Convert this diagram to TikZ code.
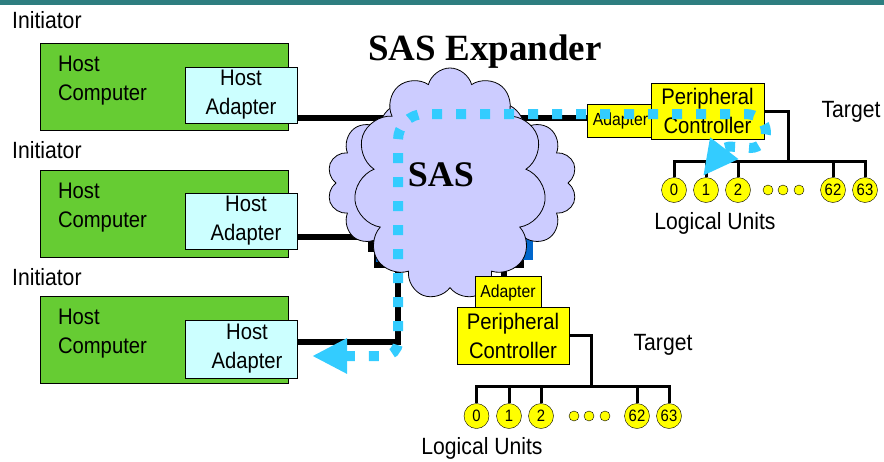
\documentclass[tikz,border=0pt]{standalone}
\usepackage{fontspec}
\setmainfont{Liberation Sans}[FakeStretch=0.9]
\newfontfamily\serifbold{Liberation Serif}
\usetikzlibrary{shapes.symbols, arrows.meta, positioning, backgrounds, calc}
\definecolor{barteal}{RGB}{46,126,128}
\definecolor{hostgreen}{RGB}{102,204,51}
\definecolor{adaptcyan}{RGB}{204,255,255}
\definecolor{ctrlyellow}{RGB}{255,255,0}
\definecolor{cloudlav}{RGB}{204,204,255}
\definecolor{flowcyan}{RGB}{51,204,255}
\definecolor{portblue}{RGB}{0,102,204}
\newcommand{\diagfont}{\fontsize{22.5}{29}\selectfont}
\newcommand{\tagfont}{\fontsize{23.5}{29}\selectfont}
\newcommand{\portfont}{\fontsize{17.5}{18}\selectfont}
\newcommand{\unitfont}{\fontsize{16.5}{17}\selectfont}
\tikzset{
  hostbox/.style={rectangle, draw=black, fill=hostgreen, minimum width=248pt,
                  minimum height=87pt},
  hostlabel/.style={align=left, inner sep=0pt, font=\diagfont},
  adapterbox/.style={rectangle, draw=black, fill=adaptcyan, minimum width=112pt,
                     minimum height=56pt, align=center, inner sep=0pt, font=\diagfont},
  ctrlbox/.style={rectangle, draw=black, fill=ctrlyellow, minimum width=113pt,
                  minimum height=56pt, align=center, inner sep=0pt, font=\diagfont},
  portbox/.style={rectangle, draw=black, fill=ctrlyellow, minimum width=66pt,
                  minimum height=33pt, inner sep=0pt, font=\portfont},
  lunit/.style={circle, draw=black, fill=ctrlyellow, minimum size=25pt,
                inner sep=0pt, font=\unitfont},
  ldot/.style={circle, draw=black, fill=ctrlyellow, minimum size=10pt, inner sep=0pt},
  tag/.style={font=\tagfont, inner sep=0pt},
  link/.style={line width=6pt, draw=black},
  bus/.style={line width=3pt, draw=black},
  flow/.style={line width=10pt, draw=flowcyan, dash pattern=on 10pt off 14pt,
               {Triangle[length=35pt,width=33pt]}-{Triangle[length=35pt,width=33pt]}},
  sascloud/.style={cloud, cloud ignores aspect, draw=black, fill=cloudlav, thick},
}

\begin{document}
\begin{tikzpicture}[x=1pt, y=-1pt]
  \useasboundingbox (0,0) rectangle (884,461);
  % Top bar
  \fill[barteal] (0,0) rectangle (884,5);

  % Initiators
  \node[tag, anchor=west] (init1) at (12,20) {Initiator};
  \node[tag, anchor=west] (init2) at (12,150) {Initiator};
  \node[tag, anchor=west] (init3) at (12,277) {Initiator};

  \node[hostbox] (hc1) at (164,86.5) {};
  \node[hostlabel, below right=13pt and 18pt of hc1.north west] (hl1) {Host\\Computer};
  \node[hostbox] (hc2) at (164,214) {};
  \node[hostlabel, below right=13pt and 18pt of hc2.north west] (hl2) {Host\\Computer};
  \node[hostbox] (hc3) at (164,340) {};
  \node[hostlabel, below right=13pt and 18pt of hc3.north west] (hl3) {Host\\Computer};

  \node[adapterbox] (ha1) at (241,95) {Host\\Adapter};
  \node[adapterbox] (ha2) at (241,221) {\hspace*{10pt}Host\\\hspace*{10pt}Adapter};
  \node[adapterbox, minimum height=58pt] (ha3) at (241,349)
    {\hspace*{12pt}Host\\\hspace*{12pt}Adapter};

  % Expander cloud
  \node[sascloud, cloud puffs=14, minimum width=250pt, minimum height=175pt]
    (cloudback) at (452,183) {};
  \node[sascloud, cloud puffs=11, minimum width=192pt, minimum height=232pt]
    (sas) at (450,184) {};
  \node[font=\serifbold\fontsize{36}{40}\selectfont\bfseries, inner sep=0pt]
    (sastxt) at (441,175) {SAS};
  \node[font=\serifbold\fontsize{37}{40}\selectfont\bfseries, inner sep=0pt]
    (title) at (485,52) {SAS Expander};

  % Upper target
  \node[portbox] (adt) at (620.5,121) {Adapter};
  \node[ctrlbox] (pct) at (707.5,111) {Peripheral\\Controller};
  \foreach \n/\x in {0/674, 1/706, 2/738, 62/833, 63/865}
    \node[lunit] (tu\n) at (\x,190) {\n};
  \foreach \i/\x in {1/768, 2/783, 3/799}
    \node[ldot] (tdot\i) at (\x,190) {};
  \coordinate (tbus) at (788,161);
  \draw[bus] (pct.east) -| (tbus);
  \draw[bus] (tu0.north) |- (tu63.north |- tbus) -- (tu63.north);
  \foreach \n in {1,2,62}
    \draw[bus] (tu\n.north) -- (tu\n.north |- tbus);
  \node[tag] (ttarget) at (851,112) {Target};
  \node[tag] (tlus) at (715,223) {Logical Units};

  % Lower target
  \node[portbox] (adb) at (508,292.5) {Adapter};
  \node[ctrlbox, minimum width=112pt, minimum height=57pt] (pcb) at (513,335.5)
    {Peripheral\\Controller};
  \foreach \n/\x in {0/476.5, 1/509, 2/541, 62/637, 63/669}
    \node[lunit] (bu\n) at (\x,416) {\n};
  \foreach \i/\x in {1/574, 2/589, 3/605}
    \node[ldot] (bdot\i) at (\x,416) {};
  \coordinate (bbus) at (591,386);
  \draw[bus] (pcb.east) -| (bbus);
  \draw[bus] (bu0.north) |- (bu63.north |- bbus) -- (bu63.north);
  \foreach \n in {1,2,62}
    \draw[bus] (bu\n.north) -- (bu\n.north |- bbus);
  \node[tag] (btarget) at (663,345) {Target};
  \node[tag] (blus) at (482,448) {Logical Units};

  % Links behind the cloud
  \coordinate (hop1) at (420,118);
  \coordinate (hop2) at (372,237);
  \coordinate (turn3) at (398,342);
  \coordinate (hop3) at (398,262);
  \coordinate (hop4) at (504,262);
  \begin{scope}[on background layer]
    \draw[link] (ha1.east |- hop1) -- (hop1);
    \draw[link] (hop1) -- (adt.west |- hop1);
    \draw[link] (ha2.east |- hop2) -- (hop2);
    \draw[link] (ha3.east |- turn3) -- (turn3) -- (hop3);
    \draw[link] (hop4) -- (adb.north -| hop4);
    \fill[black] (368,236) rectangle (382,252);
    \fill[black] (374,252) rectangle (401,268);
    \fill[portblue] (376,244) rectangle (392,262);
    \fill[black] (498,255) rectangle (524,268);
    \fill[portblue] (523,237) rectangle (533,260);
  \end{scope}

  % Data path
  \coordinate (tipL) at (312,356);
  \coordinate (tipR) at (703,176);
  \draw[flow] (tipL) -- (384,356) to[out=0, in=-90] (398,342) -- (398,140)
    to[out=90, in=180] (424,114) -- (745,114)
    .. controls (772,114) and (772,148) .. (750,148)
    .. controls (726,146) .. (tipR);
\end{tikzpicture}
\end{document}
